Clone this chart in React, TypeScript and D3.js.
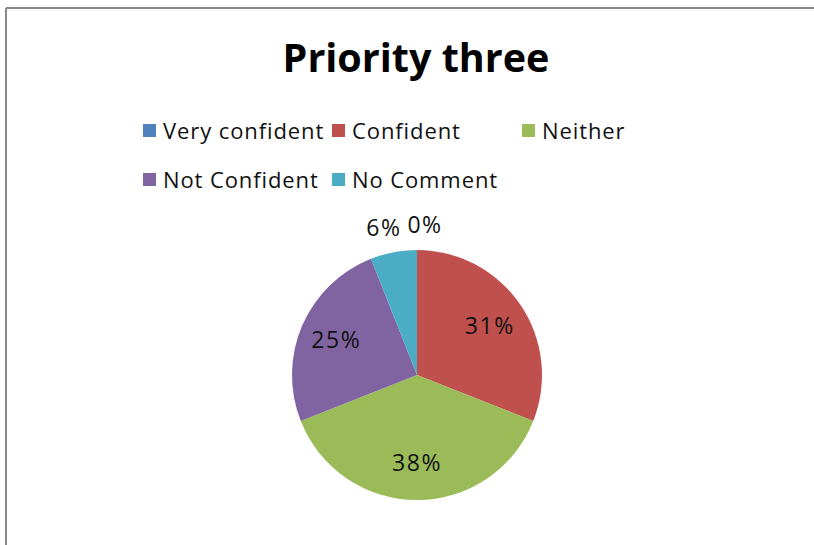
import * as d3 from "d3";

const categories = ["Very confident", "Confident", "Neither", "Not Confident", "No Comment"];
const values = [0, 31, 38, 25, 6];
const colors = ["#4F81BD", "#C0504D", "#9BBB59", "#8064A2", "#4BACC6"];
const title = "Priority three";

const W = 814;
const H = 545;
const cx = 417;
const cy = 375;
const radius = 125;
const font = "'Open Sans', sans-serif";

// legend columns: x of each marker, rows of 3
const legendCols = [143, 332, 522];
const legendRows = [131, 180];

const App = () => {
  const total = d3.sum(values);
  const pie = d3.pie<number>().sort(null).value((d) => d);
  const arcs = pie(values);
  const arcGen = d3.arc<d3.PieArcDatum<number>>().innerRadius(0).outerRadius(radius);

  const labelPos = (a: d3.PieArcDatum<number>) => {
    const mid = (a.startAngle + a.endAngle) / 2;
    const share = a.value / total;
    const r = share < 0.1 ? 150 : 88;
    let x = Math.sin(mid) * r;
    const y = -Math.cos(mid) * r;
    if (share < 0.1) x += mid < Math.PI ? 8 : -5;
    return [x, y];
  };

  return (
    <svg width={W} height={H} style={{ position: "absolute", left: 0, top: 0 }}>
      <rect x={0} y={0} width={W} height={H} fill="#fff" />
      <line x1={6} y1={8} x2={W} y2={8} stroke="#888" strokeWidth={2} />
      <line x1={6} y1={8} x2={6} y2={H} stroke="#888" strokeWidth={2} />
      <text x={416} y={72} textAnchor="middle" fontFamily={font} fontWeight="bold" fontSize={39.5} fill="#000">
        {title}
      </text>
      {categories.map((c, i) => {
        const x = legendCols[i % 3];
        const y = legendRows[Math.floor(i / 3)];
        return (
          <g key={c}>
            <rect x={x} y={y - 7} width={13} height={13} fill={colors[i]} />
            <text x={x + 20} y={y + 8} fontFamily={font} fontSize={22} letterSpacing={0.9} fill="#111">
              {c}
            </text>
          </g>
        );
      })}
      <g transform={`translate(${cx},${cy})`}>
        {arcs.map((a, i) => (
          <path key={i} d={arcGen(a) ?? ""} fill={colors[i]} />
        ))}
        {arcs.map((a, i) => {
          const [x, y] = labelPos(a);
          return (
            <text key={"l" + i} x={x} y={y} dy="0.35em" textAnchor="middle" fontFamily={font} fontSize={23} letterSpacing={1.5} fill="#111">
              {`${Math.round((a.value / total) * 100)}%`}
            </text>
          );
        })}
      </g>
    </svg>
  );
};

export default App;
